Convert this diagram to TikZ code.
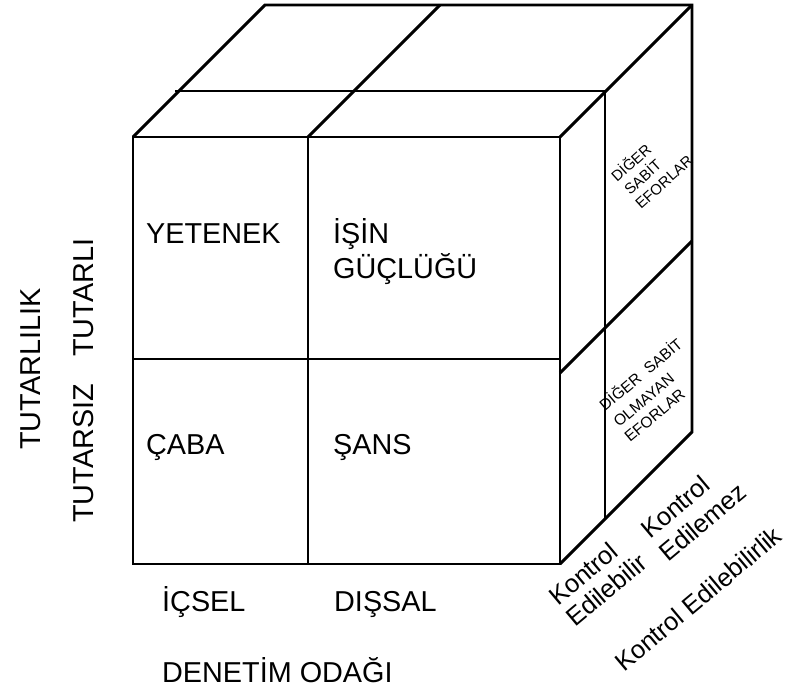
\documentclass[tikz,border=0pt]{standalone}
\usepackage{fontspec}
\setmainfont{Liberation Sans}
\begin{document}
\begin{tikzpicture}[x=1pt,y=-1pt,
  edge/.style={line width=2.9pt},
  lbl/.style={inner sep=0pt, anchor=base west, font=\fontsize{28.8}{34}\selectfont},
  vlbl/.style={lbl, rotate=90},
  sidetop/.style={inner sep=0pt, anchor=base west, rotate=42, font=\fontsize{15}{18}\selectfont},
  sidebot/.style={inner sep=0pt, anchor=base west, rotate=40, font=\fontsize{15.5}{18}\selectfont},
  axis/.style={inner sep=0pt, anchor=base west, rotate=40, font=\fontsize{25.5}{30}\selectfont}]
\useasboundingbox (0,0) rectangle (789,695);

% front face
\coordinate (FTL) at (133,137);
\coordinate (FTR) at (560,137);
\coordinate (FBR) at (560,564);
\coordinate (FTM) at (308,137);
\coordinate (FBM) at (308,564);
\coordinate (FML) at (133,359);
\coordinate (FMR) at (560,359);
% back edges
\coordinate (BTL) at (265,5);
\coordinate (BTM) at (440,5);
\coordinate (BTR) at (692,5);
\coordinate (BBR) at (692,432);
% half-depth section
\coordinate (MTL) at (175,91);
\coordinate (MTR) at (605,91);
\coordinate (MBR) at (605,519);
% divider on the right face
\coordinate (RDF) at (560,373);
\coordinate (RDB) at (692,241);

\draw[edge] (FTL) rectangle (FBR);
\draw[edge] (FTM) -- (FBM);
\draw[edge] (FML) -- (FMR);
\draw[edge] (FTL) -- (BTL) -- (BTR) -- (BBR) -- (FBR);
\draw[edge] (FTR) -- (BTR);
\draw[edge] (FTM) -- (BTM);
\draw[edge] (MTL) -- (MTR) -- (MBR);
\draw[edge] (RDF) -- (RDB);

% cell labels
\node[lbl] (yetenek) at (146,243) {YETENEK};
\node[lbl] (isin) at (333,243) {İŞİN};
\node[lbl] (guclugu) at (333,278) {GÜÇLÜĞÜ};
\node[lbl] (caba) at (146,454) {ÇABA};
\node[lbl] (sans) at (333,454) {ŞANS};

% locus axis
\node[lbl] (icsel) at (162,611) {İÇSEL};
\node[lbl] (dissal) at (334,611) {DIŞSAL};
\node[lbl] (denetim) at (162,682) {DENETİM ODAĞI};

% stability axis
\node[vlbl] (tutarlilik) at (40,450) {TUTARLILIK};
\node[vlbl] (tutarsiz) at (93,523) {TUTARSIZ};
\node[vlbl] (tutarli) at (93,357) {TUTARLI};

% right face labels
\node[sidetop] (s1) at (617,183) {DİĞER};
\node[sidetop] (s2) at (630,196) {SABİT};
\node[sidetop] (s3) at (641,210) {EFORLAR};
\node[sidebot] (n1) at (605,412) {DİĞER\ \ SABİT};
\node[sidebot] (n2) at (619,428) {OLMAYAN};
\node[sidebot] (n3) at (630,443) {EFORLAR};

% controllability axis
\node[axis] (k1) at (558,607) {Kontrol};
\node[axis] (e1) at (575,628) {Edilebilir};
\node[axis] (k2) at (650,540) {Kontrol};
\node[axis] (e2) at (668,563) {Edilemez};
\node[axis] (ke) at (624,673) {Kontrol Edilebilirlik};
\end{tikzpicture}
\end{document}
